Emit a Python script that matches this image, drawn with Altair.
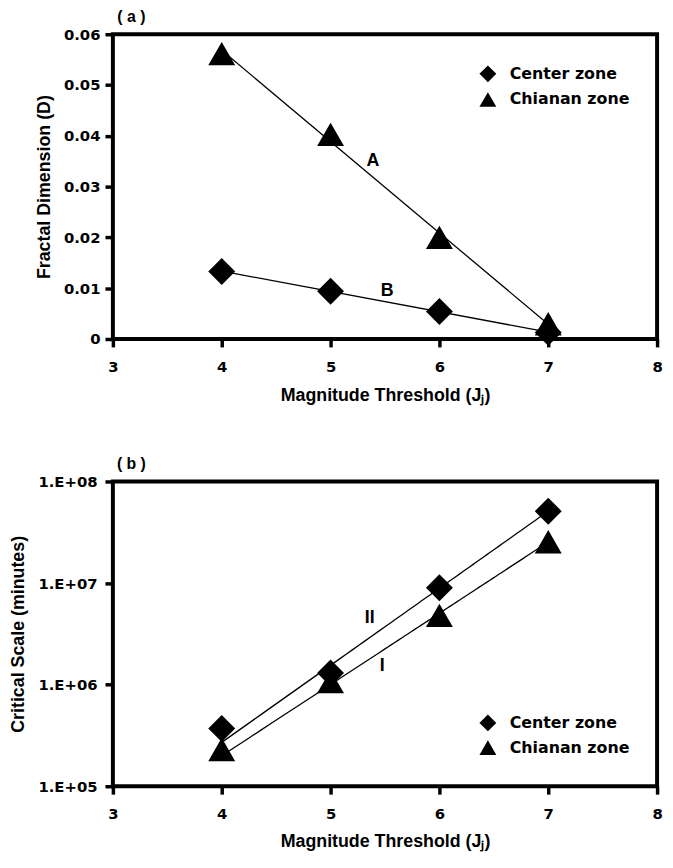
import altair as alt
import pandas as pd

# ---------------- data ----------------
thresholds = [4, 5, 6, 7]
zones = ["Center zone", "Chianan zone"]

fractal_center = [0.0133, 0.0094, 0.0054, 0.0013]
fractal_chianan = [0.0562, 0.0403, 0.0200, 0.0030]

critical_center = [3.7e5, 1.3e6, 9.0e6, 5.1e7]
critical_chianan = [2.3e5, 1.07e6, 4.8e6, 2.55e7]

x_ticks = [3, 4, 5, 6, 7, 8]
y_ticks_a = [0, 0.01, 0.02, 0.03, 0.04, 0.05, 0.06]
y_ticks_b = [1e5, 1e6, 1e7, 1e8]

# curve labels and panel labels (data coordinates)
ann_a_text = ["A", "B", "( a )"]
ann_a_x = [5.39, 5.52, 3.17]
ann_a_y = [0.0351, 0.0095, 0.0634]
ann_a_size = [18, 18, 16]

ann_b_text = ["II", "I", "( b )"]
ann_b_x = [5.36, 5.475, 3.17]
ann_b_y = [4.5e6, 1.54e6, 1.5e8]
ann_b_size = [18, 18, 16]

x_title = "Magnitude Threshold (J\u2c7c)"


def long_df(center, chianan):
    rows = []
    for j, v in zip(thresholds, center):
        rows.append({"J": j, "V": v, "zone": zones[0]})
    for j, v in zip(thresholds, chianan):
        rows.append({"J": j, "V": v, "zone": zones[1]})
    return pd.DataFrame(rows)


df_a = long_df(fractal_center, fractal_chianan)
df_b = long_df(critical_center, critical_chianan)
ann_a = pd.DataFrame({"J": ann_a_x, "V": ann_a_y, "t": ann_a_text, "s": ann_a_size})
ann_b = pd.DataFrame({"J": ann_b_x, "V": ann_b_y, "t": ann_b_text, "s": ann_b_size})

W, H = 550, 308


def panel(df, ann, y_scale, y_axis, method, legend_y, row_pad, lab_pad, tit_pad):
    x_enc = alt.X(
        "J:Q",
        scale=alt.Scale(domain=[3, 8], nice=False, zero=False),
        axis=alt.Axis(values=x_ticks, format="d", title=x_title,
                      labelPadding=lab_pad, titlePadding=tit_pad),
    )
    y_enc = alt.Y("V:Q", scale=y_scale, axis=y_axis)

    base = alt.Chart(df)
    lines = (
        base.transform_regression("J", "V", groupby=["zone"], method=method)
        .mark_line(color="black", strokeWidth=1.3)
        .encode(x=x_enc, y=y_enc, detail="zone:N")
    )
    points = base.mark_point(filled=True, size=740, color="black", opacity=1).encode(
        x=x_enc,
        y=y_enc,
        shape=alt.Shape(
            "zone:N",
            scale=alt.Scale(domain=zones, range=["diamond", "triangle-up"]),
            legend=alt.Legend(
                title=None,
                orient="none",
                legendX=370,
                legendY=legend_y,
                padding=0,
                symbolSize=290,
                symbolFillColor="black",
                symbolStrokeWidth=0,
                symbolOpacity=1,
                labelFont="DejaVu Sans",
                labelFontWeight="bold",
                labelFontSize=16,
                labelColor="black",
                labelOffset=13,
                rowPadding=row_pad,
            ),
        ),
    )
    text = alt.Chart(ann).mark_text(
        font="Liberation Sans", fontWeight="bold", color="black"
    ).encode(
        x=x_enc, y=y_enc, text="t:N",
        size=alt.Size("s:Q", scale=None, legend=None),
    )

    return alt.layer(lines, points, text).properties(width=W, height=H)


axis_a = alt.Axis(
    values=y_ticks_a,
    title="Fractal Dimension (D)",
    labelExpr="datum.value == 0 ? '0' : format(datum.value, '.2f')",
    labelPadding=5,
    titlePadding=10,
)
axis_b = alt.Axis(
    values=y_ticks_b,
    title="Critical Scale (minutes)",
    labelExpr="'1.E+0' + round(log(datum.value) / LN10)",
    labelPadding=8,
    titlePadding=10,
)

chart_a = panel(
    df_a, ann_a,
    alt.Scale(domain=[0, 0.06], nice=False, zero=False),
    axis_a, "linear", 31, 8, 13, 12,
)
chart_b = panel(
    df_b, ann_b,
    alt.Scale(type="log", domain=[1e5, 1e8], nice=False),
    axis_b, "exp", 235, 7, 13, 11,
)

chart = (
    alt.vconcat(chart_a, chart_b, spacing=47)
    .resolve_scale(shape="independent", size="independent")
    .resolve_legend(shape="independent")
    .properties(padding={"left": 0, "right": 0, "top": -6, "bottom": 0})
    .configure_view(stroke="black", strokeWidth=4)
    .configure_axis(
        grid=False,
        domain=False,
        ticks=True,
        tickColor="black",
        tickWidth=3.5,
        tickSize=8,
        labelFont="DejaVu Sans",
        labelFontWeight="bold",
        labelFontSize=15,
        labelColor="black",
        titleFont="Liberation Sans",
        titleFontWeight="bold",
        titleFontSize=18,
        titleColor="black",
    )
    .configure_axisX(labelFlush=False)
)

chart.save("out.html", embed_options={"renderer": "svg", "actions": False})
